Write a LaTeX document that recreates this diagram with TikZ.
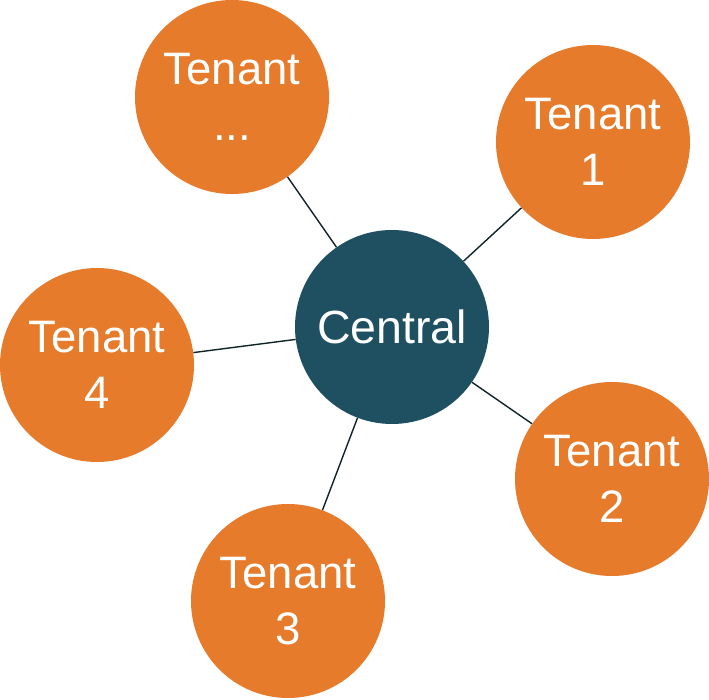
\documentclass[tikz,border=0pt]{standalone}
\usepackage{fontspec}
\setmainfont{Liberation Sans}
\definecolor{tenantorange}{RGB}{231,123,44}
\definecolor{centralteal}{RGB}{30,80,97}
\definecolor{linecol}{RGB}{15,35,40}
\tikzset{
  bubble/.style={circle, minimum size=194pt, inner sep=0pt, text=white, align=center,
    font=\fontsize{45.5}{56}\selectfont},
  tenantbubble/.style={bubble, fill=tenantorange},
  centralbubble/.style={bubble, fill=centralteal, font=\fontsize{46.5}{56}\selectfont},
  link/.style={draw=linecol, line width=1.4pt}
}
\begin{document}
\begin{tikzpicture}[x=1pt,y=-1pt]
\useasboundingbox (0,0) rectangle (709,699);
\node[centralbubble] (c) at (392,327) {Central};
\node[tenantbubble] (tx) at (232,97) {Tenant\\...};
\node[tenantbubble] (t1) at (593,142) {Tenant\\1};
\node[tenantbubble] (t2) at (612,479) {Tenant\\2};
\node[tenantbubble] (t3) at (288,601) {Tenant\\3};
\node[tenantbubble] (t4) at (97,365) {Tenant\\4};
\draw[link] (c) -- (tx);
\draw[link] (c) -- (t1);
\draw[link] (c) -- (t2);
\draw[link] (c) -- (t3);
\draw[link] (c) -- (t4);
\end{tikzpicture}
\end{document}
